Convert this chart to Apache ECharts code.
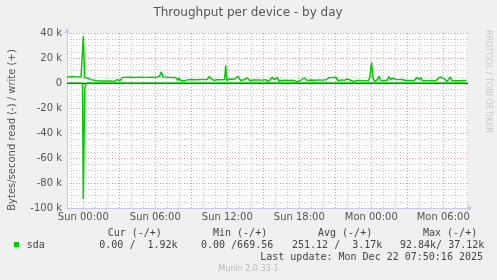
<!DOCTYPE html>
<html>
<head>
<meta charset="utf-8">
<script src="https://cdn.jsdelivr.net/npm/echarts@6/dist/echarts.min.js"></script>
<style>
html,body{margin:0;padding:0;background:#f0f0f0;}
#c{width:497px;height:280px;}
</style>
</head>
<body>
<div id="c"></div>
<script>
// ---- data (time in hours relative to Sun 00:00, values in bytes/second) ----
const title = 'Throughput per device - by day';
const yAxisTitle = 'Bytes/second read (-) / write (+)';
const sideText = 'RRDTOOL / TOBI OETIKER';
const xTickHours = [0, 6, 12, 18, 24, 30];
const xTickLabels = ['Sun 00:00', 'Sun 06:00', 'Sun 12:00', 'Sun 18:00', 'Mon 00:00', 'Mon 06:00'];
const xMajorHours = [0, 3, 6, 9, 12, 15, 18, 21, 24, 27, 30];
const xMinorHours = [-1,1,2,4,5,7,8,10,11,13,14,16,17,19,20,22,23,25,26,28,29,31,32];

const writeT = [-1.36,-0.94,-0.53,-0.19,-0.07,0.0,0.12,0.33,0.62,1.03,1.31,1.73,2.06,2.31,2.42,2.56,2.83,3.06,3.25,3.73,4.23,4.73,5.23,5.73,6.14,6.35,6.5,6.64,7.23,7.7,7.78,7.89,7.97,8.12,8.39,8.64,9.06,9.48,9.89,10.31,10.48,10.67,10.89,11.14,11.47,11.77,11.87,11.95,12.14,12.56,12.89,13.12,13.39,13.67,13.89,14.14,14.56,14.98,15.2,15.39,15.56,15.75,15.95,16.17,16.31,16.48,16.81,17.14,17.48,17.83,18.12,18.39,18.67,18.98,19.31,19.64,19.98,20.23,20.48,20.81,21.06,21.23,21.48,21.81,22.0,22.28,22.56,22.81,23.23,23.56,23.77,23.89,24.02,24.14,24.28,24.5,24.64,24.78,25.06,25.31,25.48,25.62,25.83,26.06,26.39,26.64,26.89,27.23,27.56,27.72,27.83,27.98,28.12,28.25,28.64,29.06,29.39,29.56,29.73,29.89,30.06,30.33,30.6,30.73,31.06,31.48,31.73,31.93];
const writeV = [4800,5000,4900,4800,5000,37120,4500,4000,2700,2000,1600,1600,1700,1600,2400,1300,2700,1900,4500,4600,4400,4700,4500,4600,4500,5500,8800,4800,4500,4500,5300,2000,4000,2000,1600,2500,2800,2600,2900,2700,5100,3500,2000,2700,2600,2800,14000,2000,3200,3000,5300,2000,2600,4000,1800,2400,2500,2300,2700,1300,2500,4500,2700,4500,1300,2000,2200,2000,2300,1000,2000,4000,2000,2400,2200,2500,2300,2600,4300,4500,4400,1800,2400,2300,3200,2200,1300,2000,2100,1700,2000,5300,16500,4000,1300,2700,5300,2000,2000,2200,5000,2700,4000,2700,2800,2600,2000,2100,1900,2200,4500,2700,4500,1800,1900,2000,1900,3500,4800,4400,3500,1300,4800,1800,1900,1800,2100,1920];

const readT = [-1.36,-0.07,0.0,0.12,0.25,31.93];
const readV = [0,0,92840,4000,0,0];

const legendName = 'sda';
const statHeaders = ['Cur (-/+)', 'Min (-/+)', 'Avg (-/+)', 'Max (-/+)'];
const statValues = ['0.00 /  1.92k', '0.00 /669.56', '251.12 /  3.17k', '92.84k/ 37.12k'];
const lastUpdate = 'Last update: Mon Dec 22 07:50:16 2025';
const footer = 'Munin 2.0.33-1';

// ---- chart ----
const GREEN = '#00cc00';
const chart = echarts.init(document.getElementById('c'), null, {renderer: 'canvas'});
const mono = '"DejaVu Sans Mono", monospace';
const sans = '"DejaVu Sans", sans-serif';

const headerX = [107.7, 213, 318, 423];
const valueX = [99.3, 201, 292, 400];

const graphics = [
  {type: 'text', x: 248, y: 13, style: {text: title, font: '12px ' + sans, fill: '#555', align: 'center', verticalAlign: 'middle'}},
  {type: 'text', x: 12, y: 130, rotation: Math.PI / 2, style: {text: yAxisTitle, font: '10px ' + sans, fill: '#555', align: 'center', verticalAlign: 'middle'}},
  {type: 'text', x: 488, y: 30, rotation: -Math.PI / 2, style: {text: sideText, font: '8px ' + sans, fill: '#c8c8c8', align: 'left', verticalAlign: 'middle'}},
  {type: 'rect', shape: {x: 14, y: 242, width: 5, height: 5}, style: {fill: GREEN}},
  {type: 'text', x: 26.7, y: 245.3, style: {text: legendName, font: '10px ' + mono, fill: '#444', verticalAlign: 'middle'}},
  {type: 'text', x: 483, y: 257.7, style: {text: lastUpdate, font: '10px ' + mono, fill: '#444', align: 'right', verticalAlign: 'middle'}},
  {type: 'text', x: 248.5, y: 269.3, style: {text: footer, font: '8px ' + sans, fill: '#bbb', align: 'center', verticalAlign: 'middle'}}
];
statHeaders.forEach((h, i) => graphics.push({type: 'text', x: headerX[i], y: 233, style: {text: h, font: '10px ' + mono, fill: '#444', verticalAlign: 'middle'}}));
statValues.forEach((v, i) => graphics.push({type: 'text', x: valueX[i], y: 245.3, style: {text: v, font: '10px ' + mono, fill: '#444', verticalAlign: 'middle'}}));

const majorColor = '#e39a9e';
const minorColor = '#cacaca';
const dash = [1, 2];

chart.setOption({
  animation: false,
  backgroundColor: '#f0f0f0',
  textStyle: {fontFamily: sans},
  graphic: graphics,
  grid: {left: 67, right: 29, top: 33, bottom: 72, show: true, backgroundColor: '#ffffff', borderWidth: 0},
  xAxis: {
    type: 'value', min: -1.36, max: 32.06,
    axisLine: {show: true, onZero: false, lineStyle: {color: '#c8c8f0', width: 1}, symbol: ['none', 'arrow'], symbolSize: [5, 6], symbolOffset: [0, 5]},
    axisTick: {show: false},
    axisLabel: {customValues: xTickHours, color: '#555', fontSize: 10, fontFamily: sans, margin: 4,
      formatter: (v) => { const i = xTickHours.findIndex(h => Math.abs(h - v) < 1e-6); return i >= 0 ? xTickLabels[i] : ''; }},
    splitLine: {show: false}
  },
  yAxis: {
    type: 'value', min: -100000, max: 40000, interval: 20000,
    axisLine: {show: true, onZero: false, lineStyle: {color: '#c8c8f0', width: 1}, symbol: ['none', 'arrow'], symbolSize: [5, 6], symbolOffset: [0, 5]},
    axisTick: {show: false},
    axisLabel: {color: '#555', fontSize: 10, fontFamily: sans, margin: 5,
      formatter: (v) => v === 0 ? '0' : (v / 1000) + ' k'},
    splitLine: {show: true, lineStyle: {color: majorColor, type: dash, width: 1}},
    minorTick: {show: false, splitNumber: 4},
    minorSplitLine: {show: true, lineStyle: {color: minorColor, type: dash, width: 1}}
  },
  series: [
    {
      name: 'minor-grid', type: 'line', data: [], silent: true, z: 1,
      markLine: {silent: true, symbol: 'none', label: {show: false}, animation: false,
        lineStyle: {color: minorColor, type: dash, width: 1},
        data: xMinorHours.map(h => ({xAxis: h}))}
    },
    {
      name: 'major-grid', type: 'line', data: [], silent: true, z: 2,
      markLine: {silent: true, symbol: 'none', label: {show: false}, animation: false,
        lineStyle: {color: majorColor, type: dash, width: 1},
        data: xMajorHours.map(h => ({xAxis: h}))}
    },
    {
      name: 'read', type: 'line', showSymbol: false, silent: true,
      data: readT.map((t, i) => [t, -readV[i]]),
      lineStyle: {color: GREEN, width: 1.5}, itemStyle: {color: GREEN}, z: 5
    },
    {
      name: 'write', type: 'line', showSymbol: false, silent: true,
      data: writeT.map((t, i) => [t, writeV[i]]),
      lineStyle: {color: GREEN, width: 1.5}, itemStyle: {color: GREEN}, z: 5,
      markLine: {silent: true, symbol: 'none', label: {show: false},
        lineStyle: {color: '#000', type: 'solid', width: 1.2}, data: [{yAxis: 0}]}
    }
  ]
});
</script>
</body>
</html>
